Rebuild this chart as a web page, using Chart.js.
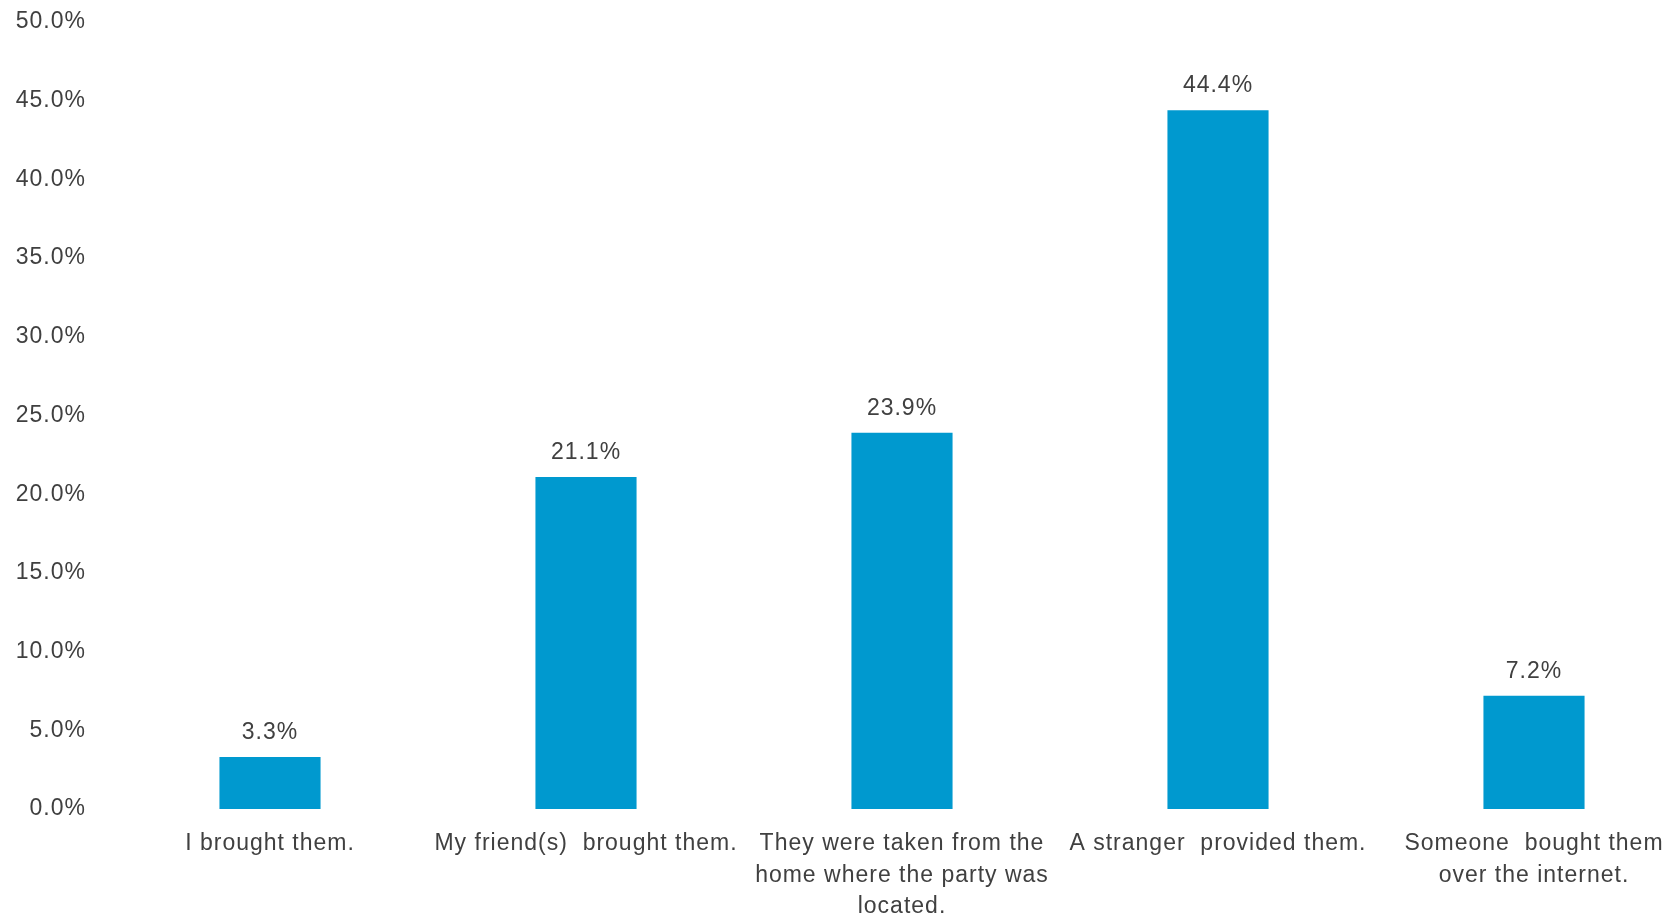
<!DOCTYPE html>
<html>
<head>
<meta charset="utf-8">
<script src="https://cdn.jsdelivr.net/npm/chart.js@4"></script>
<style>
  html, body { margin: 0; padding: 0; background: #fff; overflow: hidden; }
  #wrap { position: relative; width: 1692px; height: 914px; }
</style>
</head>
<body>
<div id="wrap"><canvas id="chartSource"></canvas></div>
<script>
// data
const categories = [
  'I brought them.',
  'My friend(s)  brought them.',
  ['They were taken from the', 'home where the party was', 'located.'],
  'A stranger  provided them.',
  ['Someone  bought them', 'over the internet.']
];
const shares = [3.3, 21.1, 23.9, 44.4, 7.2];
const yTicks = [0, 5, 10, 15, 20, 25, 30, 35, 40, 45, 50];

const textColor = '#404040';
const barColor = '#0099CF';
const fontFamily = '"Liberation Sans", Arial, sans-serif';

// the source text is a bit spread out
const spacing = {
  id: 'spacing',
  beforeLayout(chart) { chart.ctx.letterSpacing = '1px'; },
  beforeDraw(chart) { chart.ctx.letterSpacing = '1px'; }
};

// value labels above bars
const valueLabels = {
  id: 'valueLabels',
  afterDatasetsDraw(chart) {
    const ctx = chart.ctx;
    const meta = chart.getDatasetMeta(0);
    ctx.save();
    ctx.font = '23px ' + fontFamily;
    ctx.fillStyle = textColor;
    ctx.textAlign = 'center';
    ctx.textBaseline = 'alphabetic';
    meta.data.forEach((bar, i) => {
      ctx.fillText(shares[i].toFixed(1) + '%', bar.x, bar.y - 18);
    });
    ctx.restore();
  }
};

const ctx_source = document.getElementById('chartSource');

new Chart(ctx_source, {
  type: 'bar',
  data: {
    labels: categories,
    datasets: [{
      label: 'Source',
      data: shares,
      backgroundColor: barColor,
      borderWidth: 0,
      categoryPercentage: 1,
      barPercentage: 0.32
    }]
  },
  options: {
    responsive: true,
    maintainAspectRatio: false,
    animation: false,
    layout: {
      padding: { top: 22, left: 0, right: 0, bottom: 0 }
    },
    scales: {
      y: {
        min: 0,
        max: 50,
        afterBuildTicks: (scale) => {
          scale.ticks = yTicks.map(v => ({ value: v }));
        },
        afterFit: (scale) => {
          scale.width = 112;
          scale.paddingTop = 0;
          scale.paddingBottom = 0;
        },
        grid: { display: false, drawTicks: false },
        border: { display: false },
        ticks: {
          padding: 26,
          color: textColor,
          font: { family: fontFamily, size: 23 },
          callback: (v) => v.toFixed(1) + '%'
        }
      },
      x: {
        afterFit: (scale) => {
          scale.height = 105;
          scale.paddingTop = 0;
          scale.paddingBottom = 0;
        },
        grid: { display: false, drawTicks: false },
        border: { display: false },
        ticks: {
          padding: 19,
          maxRotation: 0,
          autoSkip: false,
          color: textColor,
          font: { family: fontFamily, size: 23, lineHeight: 1.37 }
        }
      }
    },
    plugins: {
      legend: { display: false },
      tooltip: { enabled: false }
    }
  },
  plugins: [spacing, valueLabels]
});
</script>
</body>
</html>
